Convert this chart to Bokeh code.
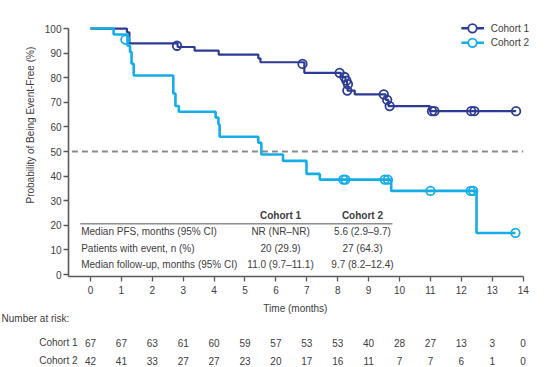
from bokeh.plotting import figure
from bokeh.models import Range1d, FixedTicker
from bokeh.embed import file_html
from bokeh.resources import INLINE
from bokeh.core.properties import value

# ---------------- data ----------------
c1_event_t = [1.18, 1.26, 2.82, 3.37, 4.15, 5.43, 5.50, 6.92, 8.10, 8.25, 8.30, 8.32, 8.55, 9.55, 9.64, 10.98]
c1_surv = [98.5, 94.0, 92.5, 91.0, 89.4, 87.9, 86.3, 82.0, 80.3, 78.6, 76.9, 74.8, 73.2, 71.0, 68.5, 66.4]
c1_end = 13.77
c1_cens_t = [2.80, 6.86, 8.06, 8.22, 8.28, 8.33, 8.31, 9.49, 9.60, 9.68, 11.05, 11.13, 12.32, 12.42, 13.77]
c1_cens_v = [93.0, 85.6, 82.0, 80.3, 78.8, 77.4, 74.8, 73.2, 71.0, 68.5, 66.4, 66.4, 66.4, 66.4, 66.4]

c2_event_t = [0.75, 1.20, 1.28, 1.33, 1.40, 2.68, 2.75, 2.86, 4.05, 4.14, 4.18, 5.43, 5.53, 6.23, 6.99, 7.42, 9.73, 12.49]
c2_surv = [97.6, 93.0, 90.5, 85.7, 80.9, 73.6, 68.5, 66.2, 63.8, 61.0, 56.0, 53.6, 48.8, 46.2, 40.9, 38.6, 34.0, 16.9]
c2_end = 13.75
c2_cens_t = [1.13, 8.18, 8.25, 9.52, 9.62, 11.00, 12.30, 12.38, 13.75]
c2_cens_v = [95.5, 38.6, 38.6, 38.6, 38.6, 34.0, 34.0, 34.0, 16.9]

risk_times = list(range(0, 15))
c1_risk = [67, 67, 63, 61, 60, 59, 57, 53, 53, 40, 28, 27, 13, 3, 0]
c2_risk = [42, 41, 33, 27, 27, 23, 20, 17, 16, 11, 7, 7, 6, 1, 0]

x_ticks = list(range(0, 15))
y_ticks = list(range(0, 101, 10))

table_rows = ["Median PFS, months (95% CI)", "Patients with event, n (%)",
              "Median follow-up, months (95% CI)"]
table_c1 = ["NR (NR\u2013NR)", "20 (29.9)", "11.0 (9.7\u201311.1)"]
table_c2 = ["5.6 (2.9\u20139.7)", "27 (64.3)", "9.7 (8.2\u201312.4)"]
series_names = ["Cohort 1", "Cohort 2"]
y_title = "Probability of Being Event-Free (%)"
x_title = "Time (months)"
risk_title = "Number at risk:"

# ---------------- style ----------------
C1 = "#2c3b96"
C2 = "#14ade8"
TXT = "#3d3d3d"
AX = "#5a5a5a"
FONT = "Liberation Sans"
FS = "10px"

p = figure(frame_width=472, frame_height=261,
           min_border_left=68, min_border_right=6, min_border_top=15, min_border_bottom=22,
           x_range=Range1d(-0.71, 14.56), y_range=Range1d(-0.8, 105.3),
           output_backend="svg", toolbar_location=None)
p.outline_line_color = None
p.grid.visible = False

for ax in (p.xaxis, p.yaxis):
    ax.axis_line_color = AX
    ax.axis_line_width = 1.6
    ax.major_tick_line_color = AX
    ax.major_tick_line_width = 1.3
    ax.major_tick_out = 5
    ax.major_tick_in = 0
    ax.minor_tick_line_color = None
    ax.major_label_text_font = FONT
    ax.major_label_text_font_size = FS
    ax.major_label_text_color = TXT

p.xaxis.ticker = FixedTicker(ticks=x_ticks)
p.yaxis.ticker = FixedTicker(ticks=y_ticks)
p.xaxis.bounds = (-0.71, 14)
p.yaxis.bounds = (-0.8, 100)
p.xaxis.major_label_standoff = 4
p.yaxis.major_label_standoff = 2

# y-axis title (leading no-break spaces move the visible text upward)
p.yaxis.axis_label = "\u00a0" * 15 + y_title
p.yaxis.axis_label_text_font = FONT
p.yaxis.axis_label_text_font_size = FS
p.yaxis.axis_label_text_font_style = "normal"
p.yaxis.axis_label_text_color = TXT
p.yaxis.axis_label_standoff = 6

# 50% reference line
p.segment(x0=[-0.6], y0=[50], x1=[14], y1=[50], line_color="#8a8a8a",
          line_width=2, line_dash="6 4")

# KM curves
def km(ev_t, surv, end):
    xs = [0.0] + list(ev_t) + [end]
    ys = [100.0] + list(surv) + [surv[-1]]
    return xs, ys

x1, y1 = km(c1_event_t, c1_surv, c1_end)
x2, y2 = km(c2_event_t, c2_surv, c2_end)
p.step(x1, y1, mode="after", line_color=C1, line_width=2.2)
p.step(x2, y2, mode="after", line_color=C2, line_width=2.6)
p.scatter(c1_cens_t, c1_cens_v, marker="circle", size=8.5, fill_alpha=0,
          line_color=C1, line_width=1.8)
p.scatter(c2_cens_t, c2_cens_v, marker="circle", size=8.5, fill_alpha=0,
          line_color=C2, line_width=1.8)

# legend (manual)
leg_y = [100.1, 94.2]
for name, col, ly in zip(series_names, [C1, C2], leg_y):
    p.segment(x0=[12.0], y0=[ly], x1=[12.73], y1=[ly], line_color=col, line_width=2.4)
    p.scatter([12.36], [ly], marker="circle", size=8.5, fill_color="white",
              line_color=col, line_width=1.8)
    p.text([12.95], [ly], text=[name], text_font=value(FONT), text_font_size=FS,
           text_color=TXT, text_baseline="middle", text_align="left")

# summary table inside the plot
p.text([6.15, 8.80], [24.0, 24.0], text=series_names, text_font=value(FONT),
       text_font_size=FS, text_font_style="bold", text_color=TXT,
       text_align="center", text_baseline="middle")
p.segment(x0=[-0.33], y0=[20.6], x1=[9.77], y1=[20.6], line_color="#555555", line_width=1)
row_y = [17.5, 10.6, 4.1]
p.text([-0.30] * 3, row_y, text=table_rows, text_font=value(FONT), text_font_size=FS,
       text_color=TXT, text_align="left", text_baseline="middle")
p.text([6.15] * 3, row_y, text=table_c1, text_font=value(FONT), text_font_size=FS,
       text_color=TXT, text_align="center", text_baseline="middle")
p.text([8.80] * 3, row_y, text=table_c2, text_font=value(FONT), text_font_size=FS,
       text_color=TXT, text_align="center", text_baseline="middle")

# ---------------- risk table strip (same time scale, 30.9 px / month) ----------------
r = figure(frame_width=546, frame_height=69, min_border=0,
           min_border_left=0, min_border_right=0, min_border_top=0, min_border_bottom=0,
           x_range=Range1d(-2.913, 14.757), y_range=Range1d(69, 0),
           output_backend="svg", toolbar_location=None)
r.axis.visible = False
r.grid.visible = False
r.outline_line_color = None

r.text([6.63], [10], text=[x_title], text_font=value(FONT), text_font_size=FS,
       text_color=TXT, text_align="center", text_baseline="middle")
r.text([-2.88], [20], text=[risk_title], text_font=value(FONT), text_font_size=FS,
       text_color=TXT, text_align="left", text_baseline="middle")
risk_rows = [44, 62]
for name, ry, vals in zip(series_names, risk_rows, [c1_risk, c2_risk]):
    r.text([-0.42], [ry], text=[name], text_font=value(FONT), text_font_size=FS,
           text_color=TXT, text_align="right", text_baseline="middle")
    r.text(risk_times, [ry] * len(risk_times), text=[str(v) for v in vals],
           text_font=value(FONT), text_font_size=FS, text_color=TXT,
           text_align="center", text_baseline="middle")

# two independent roots stacked on the page (no frame alignment between them)
open("out.html", "w").write(file_html([p, r], INLINE))
